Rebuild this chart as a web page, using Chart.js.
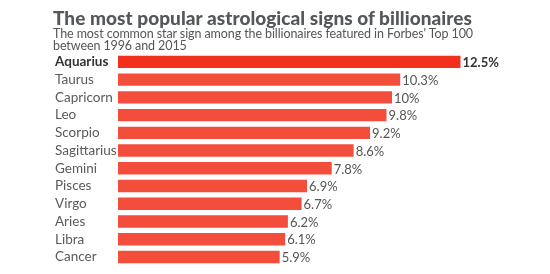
<!DOCTYPE html>
<html>
<head>
<meta charset="utf-8">
<script src="https://cdn.jsdelivr.net/npm/chart.js@4"></script>
<style>
  html, body { margin: 0; padding: 0; background: #fff; }
  #wrap { position: relative; width: 550px; height: 274px; }
  #title { position: absolute; left: 53px; top: 6px; font: 900 19px Lato, sans-serif; color: #54585b; white-space: nowrap; }
  #sub { position: absolute; left: 53px; top: 28px; font: 400 12.5px Lato, sans-serif; line-height: 11.5px; color: #555; white-space: nowrap; }
  canvas { position: absolute; left: 0; top: 0; }
</style>
</head>
<body>
<div id="wrap">
  <canvas id="chart" width="550" height="274"></canvas>
  <div id="title">The most popular astrological signs of billionaires</div>
  <div id="sub"><span id="s1">The most common star sign among the billionaires featured in Forbes' Top 100</span><br>between 1996 and 2015</div>
</div>
<script>
const signs = ['Aquarius', 'Taurus', 'Capricorn', 'Leo', 'Scorpio', 'Sagittarius', 'Gemini', 'Pisces', 'Virgo', 'Aries', 'Libra', 'Cancer'];
const shares = [12.5, 10.3, 10, 9.8, 9.2, 8.6, 7.8, 6.9, 6.7, 6.2, 6.1, 5.9];
const shareLabels = ['12.5%', '10.3%', '10%', '9.8%', '9.2%', '8.6%', '7.8%', '6.9%', '6.7%', '6.2%', '6.1%', '5.9%'];

// stretch title / subtitle to the widths in the picture
function fitWidth(el, target) {
    const w = el.getBoundingClientRect().width;
    const n = el.textContent.length;
    el.style.letterSpacing = ((target - w) / n) + 'px';
}
fitWidth(document.getElementById('title'), 419);
fitWidth(document.getElementById('s1'), 420);
document.getElementById('sub').style.letterSpacing = document.getElementById('s1').style.letterSpacing;

const valueLabels = {
    id: 'valueLabels',
    afterDatasetsDraw(chart) {
        const ctx = chart.ctx;
        const meta = chart.getDatasetMeta(0);
        ctx.save();
        ctx.textBaseline = 'middle';
        ctx.textAlign = 'left';
        meta.data.forEach((bar, i) => {
            ctx.font = (i === 0 ? '700 ' : '400 ') + '13px Lato, sans-serif';
            ctx.fillStyle = i === 0 ? '#333' : '#555';
            ctx.fillText(shareLabels[i], bar.x + 2, bar.y + 1);
        });
        ctx.restore();
    }
};

const config = {
    type: 'bar',
    data: {
        labels: signs,
        datasets: [{
            data: shares,
            backgroundColor: shares.map((v, i) => i === 0 ? '#f2311c' : '#f24e3b'),
            borderWidth: 0,
            categoryPercentage: 1,
            barPercentage: 0.7,
        }]
    },
    options: {
        indexAxis: 'y',
        responsive: false,
        animation: false,
        layout: {
            padding: { left: 55, right: 21, top: 53, bottom: 5 }
        },
        scales: {
            x: {
                min: 0,
                max: 15,
                display: false,
            },
            y: {
                grid: { display: false },
                border: { display: false },
                afterFit(scale) { scale.width = 63; },
                ticks: {
                    autoSkip: false,
                    crossAlign: 'far',
                    padding: 0,
                    color: (c) => c.index === 0 ? '#333' : '#5a5a5a',
                    font: (c) => ({ family: 'Lato, sans-serif', size: 13.5, weight: c.index === 0 ? '700' : '400' }),
                },
            },
        },
        plugins: {
            legend: { display: false },
            tooltip: { enabled: false },
        },
    },
    plugins: [valueLabels],
};

const ctx = document.getElementById('chart').getContext('2d');
const chart = new Chart(ctx, config);
</script>
</body>
</html>
